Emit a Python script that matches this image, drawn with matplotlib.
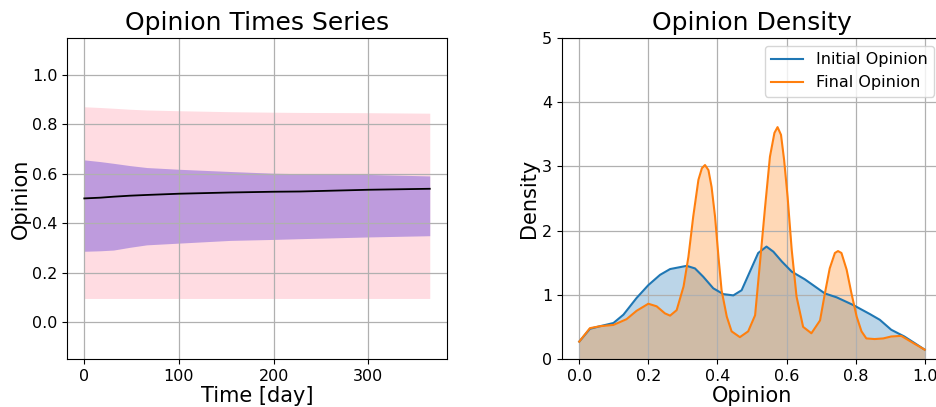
import matplotlib

matplotlib.use("Agg")

import matplotlib.pyplot as plt
import numpy as np

# time series (days)
days = [0, 17, 31, 48, 66, 100, 154, 200, 228, 300, 365]
mean_op = [0.500, 0.503, 0.507, 0.511, 0.514, 0.519, 0.524, 0.527, 0.528, 0.535, 0.539]
band_hi = [0.871, 0.868, 0.865, 0.861, 0.858, 0.855, 0.851, 0.849, 0.848, 0.847, 0.845]
band_lo = [0.095, 0.095, 0.095, 0.095, 0.095, 0.095, 0.095, 0.095, 0.095, 0.095, 0.095]
std_hi = [0.656, 0.649, 0.642, 0.633, 0.625, 0.618, 0.609, 0.602, 0.600, 0.597, 0.591]
std_lo = [0.286, 0.288, 0.291, 0.302, 0.312, 0.319, 0.330, 0.334, 0.337, 0.344, 0.349]

# density curves
init_x = [0.0, 0.031, 0.06, 0.099, 0.128, 0.166, 0.2, 0.234, 0.263, 0.311,
          0.335, 0.359, 0.388, 0.417, 0.446, 0.470, 0.494, 0.518, 0.542, 0.562,
          0.586, 0.615, 0.653, 0.682, 0.711, 0.745, 0.793, 0.841, 0.870, 0.903,
          0.941, 0.97, 1.0]
init_y = [0.27, 0.47, 0.51, 0.56, 0.69, 0.95, 1.15, 1.31, 1.40, 1.45,
          1.41, 1.28, 1.10, 1.01, 0.99, 1.07, 1.36, 1.65, 1.75, 1.67,
          1.52, 1.36, 1.24, 1.13, 1.02, 0.96, 0.84, 0.70, 0.61, 0.455,
          0.35, 0.25, 0.145]
final_x = [0.0, 0.031, 0.06, 0.099, 0.137, 0.166, 0.2, 0.224, 0.248, 0.263,
           0.282, 0.302, 0.316, 0.330, 0.345, 0.355, 0.364, 0.374, 0.383, 0.393,
           0.403, 0.412, 0.427, 0.441, 0.465, 0.489, 0.509, 0.523, 0.538, 0.552,
           0.565, 0.574, 0.584, 0.593, 0.603, 0.615, 0.629, 0.648, 0.672, 0.697,
           0.711, 0.725, 0.740, 0.749, 0.759, 0.774, 0.788, 0.803, 0.817, 0.831,
           0.855, 0.880, 0.903, 0.932, 0.96, 1.0]
final_y = [0.27, 0.48, 0.51, 0.53, 0.62, 0.75, 0.86, 0.82, 0.71, 0.675,
           0.76, 1.13, 1.59, 2.22, 2.79, 2.97, 3.02, 2.94, 2.68, 2.22,
           1.59, 1.07, 0.66, 0.43, 0.34, 0.43, 0.68, 1.49, 2.37, 3.15,
           3.52, 3.61, 3.49, 3.10, 2.53, 1.70, 0.97, 0.50, 0.40, 0.60,
           1.02, 1.41, 1.65, 1.68, 1.65, 1.39, 1.02, 0.66, 0.43, 0.32,
           0.31, 0.32, 0.35, 0.36, 0.27, 0.145]

fig = plt.figure(figsize=(9.36, 4.07), dpi=100)
ax1 = fig.add_axes([0.0716, 0.118, 0.406, 0.789])
ax2 = fig.add_axes([0.6004, 0.118, 0.406, 0.789])

ax1.fill_between(days, band_lo, band_hi, color="pink", alpha=0.55, linewidth=0)
ax1.fill_between(days, std_lo, std_hi, color="mediumpurple", alpha=0.6, linewidth=0)
ax1.plot(days, mean_op, color="black", linewidth=1.3)
ax1.set_ylim(-0.15, 1.15)
ax1.set_xticks([0, 100, 200, 300])
ax1.set_yticks([0.0, 0.2, 0.4, 0.6, 0.8, 1.0])
ax1.grid(True, color="#b0b0b0", linewidth=0.9)
ax1.set_title("Opinion Times Series", fontsize=18)
ax1.set_xlabel("Time [day]", fontsize=15, labelpad=2)
ax1.set_ylabel("Opinion", fontsize=15, labelpad=1)
ax1.tick_params(labelsize=11.5)

ax2.plot(init_x, init_y, color="tab:blue", linewidth=1.5, label="Initial Opinion")
ax2.fill_between(init_x, 0, init_y, color="tab:blue", alpha=0.3, linewidth=0)
ax2.plot(final_x, final_y, color="tab:orange", linewidth=1.5, label="Final Opinion")
ax2.fill_between(final_x, 0, final_y, color="tab:orange", alpha=0.3, linewidth=0)
ax2.set_xlim(-0.05, 1.05)
ax2.set_ylim(0, 5)
ax2.set_xticks([0.0, 0.2, 0.4, 0.6, 0.8, 1.0])
ax2.grid(True, color="#b0b0b0", linewidth=0.9)
ax2.set_title("Opinion Density", fontsize=18)
ax2.set_xlabel("Opinion", fontsize=15, labelpad=2)
ax2.set_ylabel("Density", fontsize=15, labelpad=2)
ax2.tick_params(labelsize=11.5)
ax2.legend(loc="upper right", fontsize=11.5)

fig.savefig("out.png", dpi=100)
